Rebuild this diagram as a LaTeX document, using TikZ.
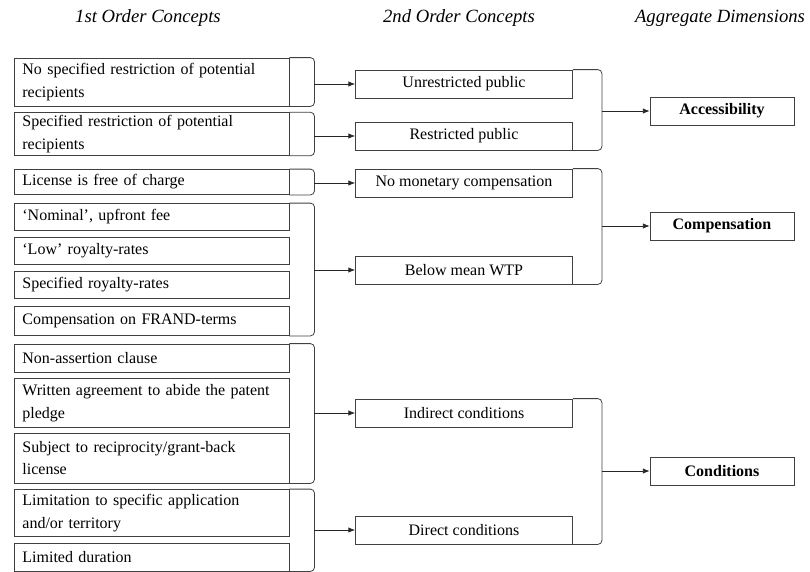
\documentclass[tikz,border=0pt]{standalone}
\usepackage{fontspec}
\setmainfont{Liberation Serif}
\usepackage{tikz}
\usetikzlibrary{arrows.meta,positioning}

\begin{document}
\begin{tikzpicture}[x=0.75pt, y=-0.75pt, >=Latex,
    concept/.style={draw=black!75, line width=0.6pt, anchor=west, text width=194pt, inner xsep=6pt, inner ysep=2pt, align=left, font=\fontsize{12}{17}\selectfont},
    theme/.style={draw=black!75, line width=0.6pt, minimum width=162.75pt, minimum height=21pt, align=center, font=\fontsize{12}{14}\selectfont},
    dimension/.style={draw=black!75, line width=0.6pt, minimum width=108pt, minimum height=21pt, font=\fontsize{12}{14}\selectfont\bfseries},
    head/.style={font=\fontsize{14}{16}\selectfont\itshape},
    brace/.style={draw=black!75, line width=0.6pt, rounded corners=3pt},
    link/.style={draw=black!85, line width=0.6pt, -{Latex[length=5pt,width=4pt]}}]
    \useasboundingbox (0,0) rectangle (810,571);
    % column headings
    \node[head] (h1) at (148,18) {1st Order Concepts};
    \node[head] (h2) at (459,18) {2nd Order Concepts};
    \node[head] (h3) at (720,18) {Aggregate Dimensions};
    % 1st order concepts
    \node[concept, minimum height=36pt] (f1) at (14,82) {No specified restriction of potential\\recipients};
    \node[concept, minimum height=31.5pt] (f2) at (14,134) {Specified restriction of potential\\recipients};
    \node[concept, minimum height=18.75pt] (f3) at (14,182) {License is free of charge};
    \node[concept, minimum height=20.25pt] (f4) at (14,217) {`Nominal', upfront fee};
    \node[concept, minimum height=20.25pt] (f5) at (14,251) {`Low' royalty-rates};
    \node[concept, minimum height=20.25pt] (f6) at (14,285) {Specified royalty-rates};
    \node[concept, minimum height=21.75pt] (f7) at (14,321) {Compensation on FRAND-terms};
    \node[concept, minimum height=21pt] (f8) at (14,358) {Non-assertion clause};
    \node[concept, minimum height=36.75pt] (f9) at (14,403) {Written agreement to abide the patent\\pledge};
    \node[concept, minimum height=37.5pt] (f10) at (14,458) {Subject to reciprocity/grant-back\\license};
    \node[concept, minimum height=35.25pt] (f11) at (14,513) {Limitation to specific application\\and/or territory};
    \node[concept, minimum height=21pt] (f12) at (14,557) {Limited duration};
    % 2nd order concepts
    \node[theme] (s1) at (464,84) {Unrestricted public};
    \node[theme] (s2) at (464,136) {Restricted public};
    \node[theme] (s3) at (464,183) {No monetary compensation};
    \node[theme] (s4) at (464,270) {Below mean WTP};
    \node[theme] (s5) at (464,413) {Indirect conditions};
    \node[theme] (s6) at (464,530) {Direct conditions};
    % aggregate dimensions
    \node[dimension] (a1) at (722,111) {Accessibility};
    \node[dimension] (a2) at (722,226) {Compensation};
    \node[dimension] (a3) at (722,471) {Conditions};
    % brackets and arrows, first to second order
    \draw[brace] (f1.north east) -- ++(25,0) coordinate (k1) |- (f1.south east);
    \draw[link] (k1 |- s1.west) -- (s1.west);
    \draw[brace] (f2.north east) -- ++(25,0) coordinate (k2) |- (f2.south east);
    \draw[link] (k2 |- s2.west) -- (s2.west);
    \draw[brace] (f3.north east) -- ++(25,0) coordinate (k3) |- (f3.south east);
    \draw[link] (k3 |- s3.west) -- (s3.west);
    \draw[brace] (f4.north east) -- ++(25,0) coordinate (k4) |- (f7.south east);
    \draw[link] (k4 |- s4.west) -- (s4.west);
    \draw[brace] (f8.north east) -- ++(25,0) coordinate (k5) |- (f10.south east);
    \draw[link] (k5 |- s5.west) -- (s5.west);
    \draw[brace] (f11.north east) -- ++(25,0) coordinate (k6) |- (f12.south east);
    \draw[link] (k6 |- s6.west) -- (s6.west);
    % brackets and arrows, second order to dimensions
    \draw[brace] (s1.north east) -- ++(29,0) coordinate (m1) |- (s2.south east);
    \draw[link] (m1 |- a1.west) -- (a1.west);
    \draw[brace] (s3.north east) -- ++(29,0) coordinate (m2) |- (s4.south east);
    \draw[link] (m2 |- a2.west) -- (a2.west);
    \draw[brace] (s5.north east) -- ++(29,0) coordinate (m3) |- (s6.south east);
    \draw[link] (m3 |- a3.west) -- (a3.west);
\end{tikzpicture}
\end{document}
